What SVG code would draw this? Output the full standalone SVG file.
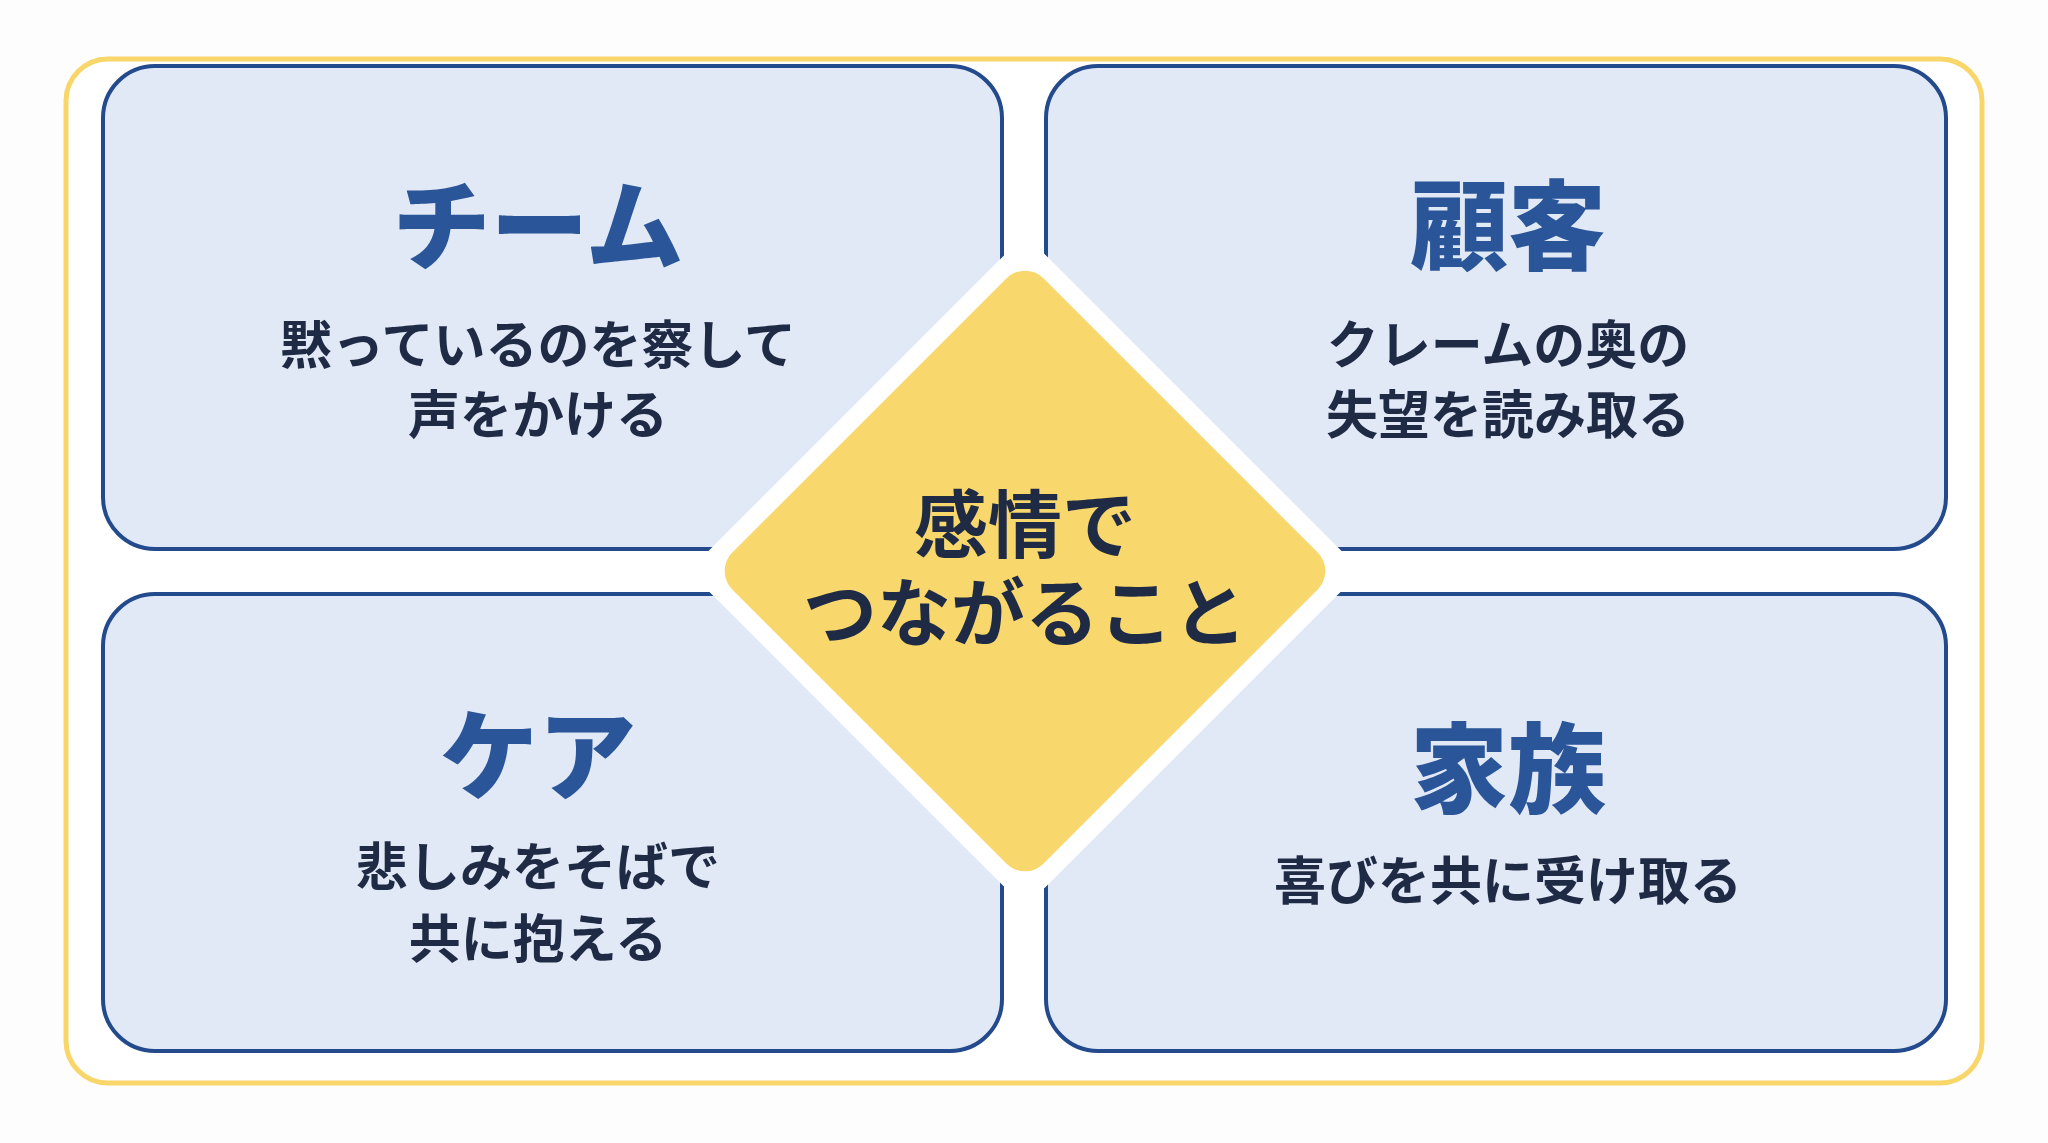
<svg xmlns="http://www.w3.org/2000/svg" width="2048" height="1143" viewBox="0 0 2048 1143">
<style>
.box{fill:#e1e9f7;stroke:#234a8c;stroke-width:4}
.t{font-family:"Noto Sans CJK JP","Noto Sans",sans-serif;font-weight:900;font-size:98px;fill:#2a5598;text-anchor:middle}
.s{font-family:"Noto Sans CJK JP","Noto Sans",sans-serif;font-weight:700;font-size:52px;fill:#1f2a44;text-anchor:middle}
.c{font-family:"Noto Sans CJK JP","Noto Sans",sans-serif;font-weight:700;font-size:74px;fill:#1f2a44;text-anchor:middle}
</style>
<rect width="2048" height="1143" fill="#fdfdfd"/>
<rect x="66" y="59" width="1916" height="1024" rx="42" fill="#ffffff" stroke="#f8d66a" stroke-width="5"/>
<g id="team"><rect class="box" x="103" y="66" width="899" height="483" rx="52"/>
<text class="t" x="538" y="262">チーム</text>
<text class="s" x="538" y="364">黙っているのを察して</text>
<text class="s" x="538" y="434">声をかける</text></g>
<g id="customer"><rect class="box" x="1046" y="66" width="900" height="483" rx="52"/>
<text class="t" x="1508" y="262">顧客</text>
<text class="s" x="1508" y="364">クレームの奥の</text>
<text class="s" x="1508" y="434">失望を読み取る</text></g>
<g id="care"><rect class="box" x="103" y="594" width="899" height="457" rx="52"/>
<text class="t" x="538" y="792">ケア</text>
<text class="s" x="538" y="886">悲しみをそばで</text>
<text class="s" x="538" y="958">共に抱える</text></g>
<g id="family"><rect class="box" x="1046" y="594" width="900" height="457" rx="52"/>
<text class="t" x="1508" y="805">家族</text>
<text class="s" x="1508" y="900">喜びを共に受け取る</text></g>
<g id="connectors"></g>
<g id="center">
<rect x="787" y="333" width="476" height="476" rx="28" fill="#ffffff" transform="rotate(45 1025 571)"/>
<rect x="805" y="351" width="440" height="440" rx="26" fill="#f8d86c" transform="rotate(45 1025 571)"/>
<text class="c" x="1025" y="552">感情で</text>
<text class="c" x="1025" y="640">つながること</text></g>
</svg>
